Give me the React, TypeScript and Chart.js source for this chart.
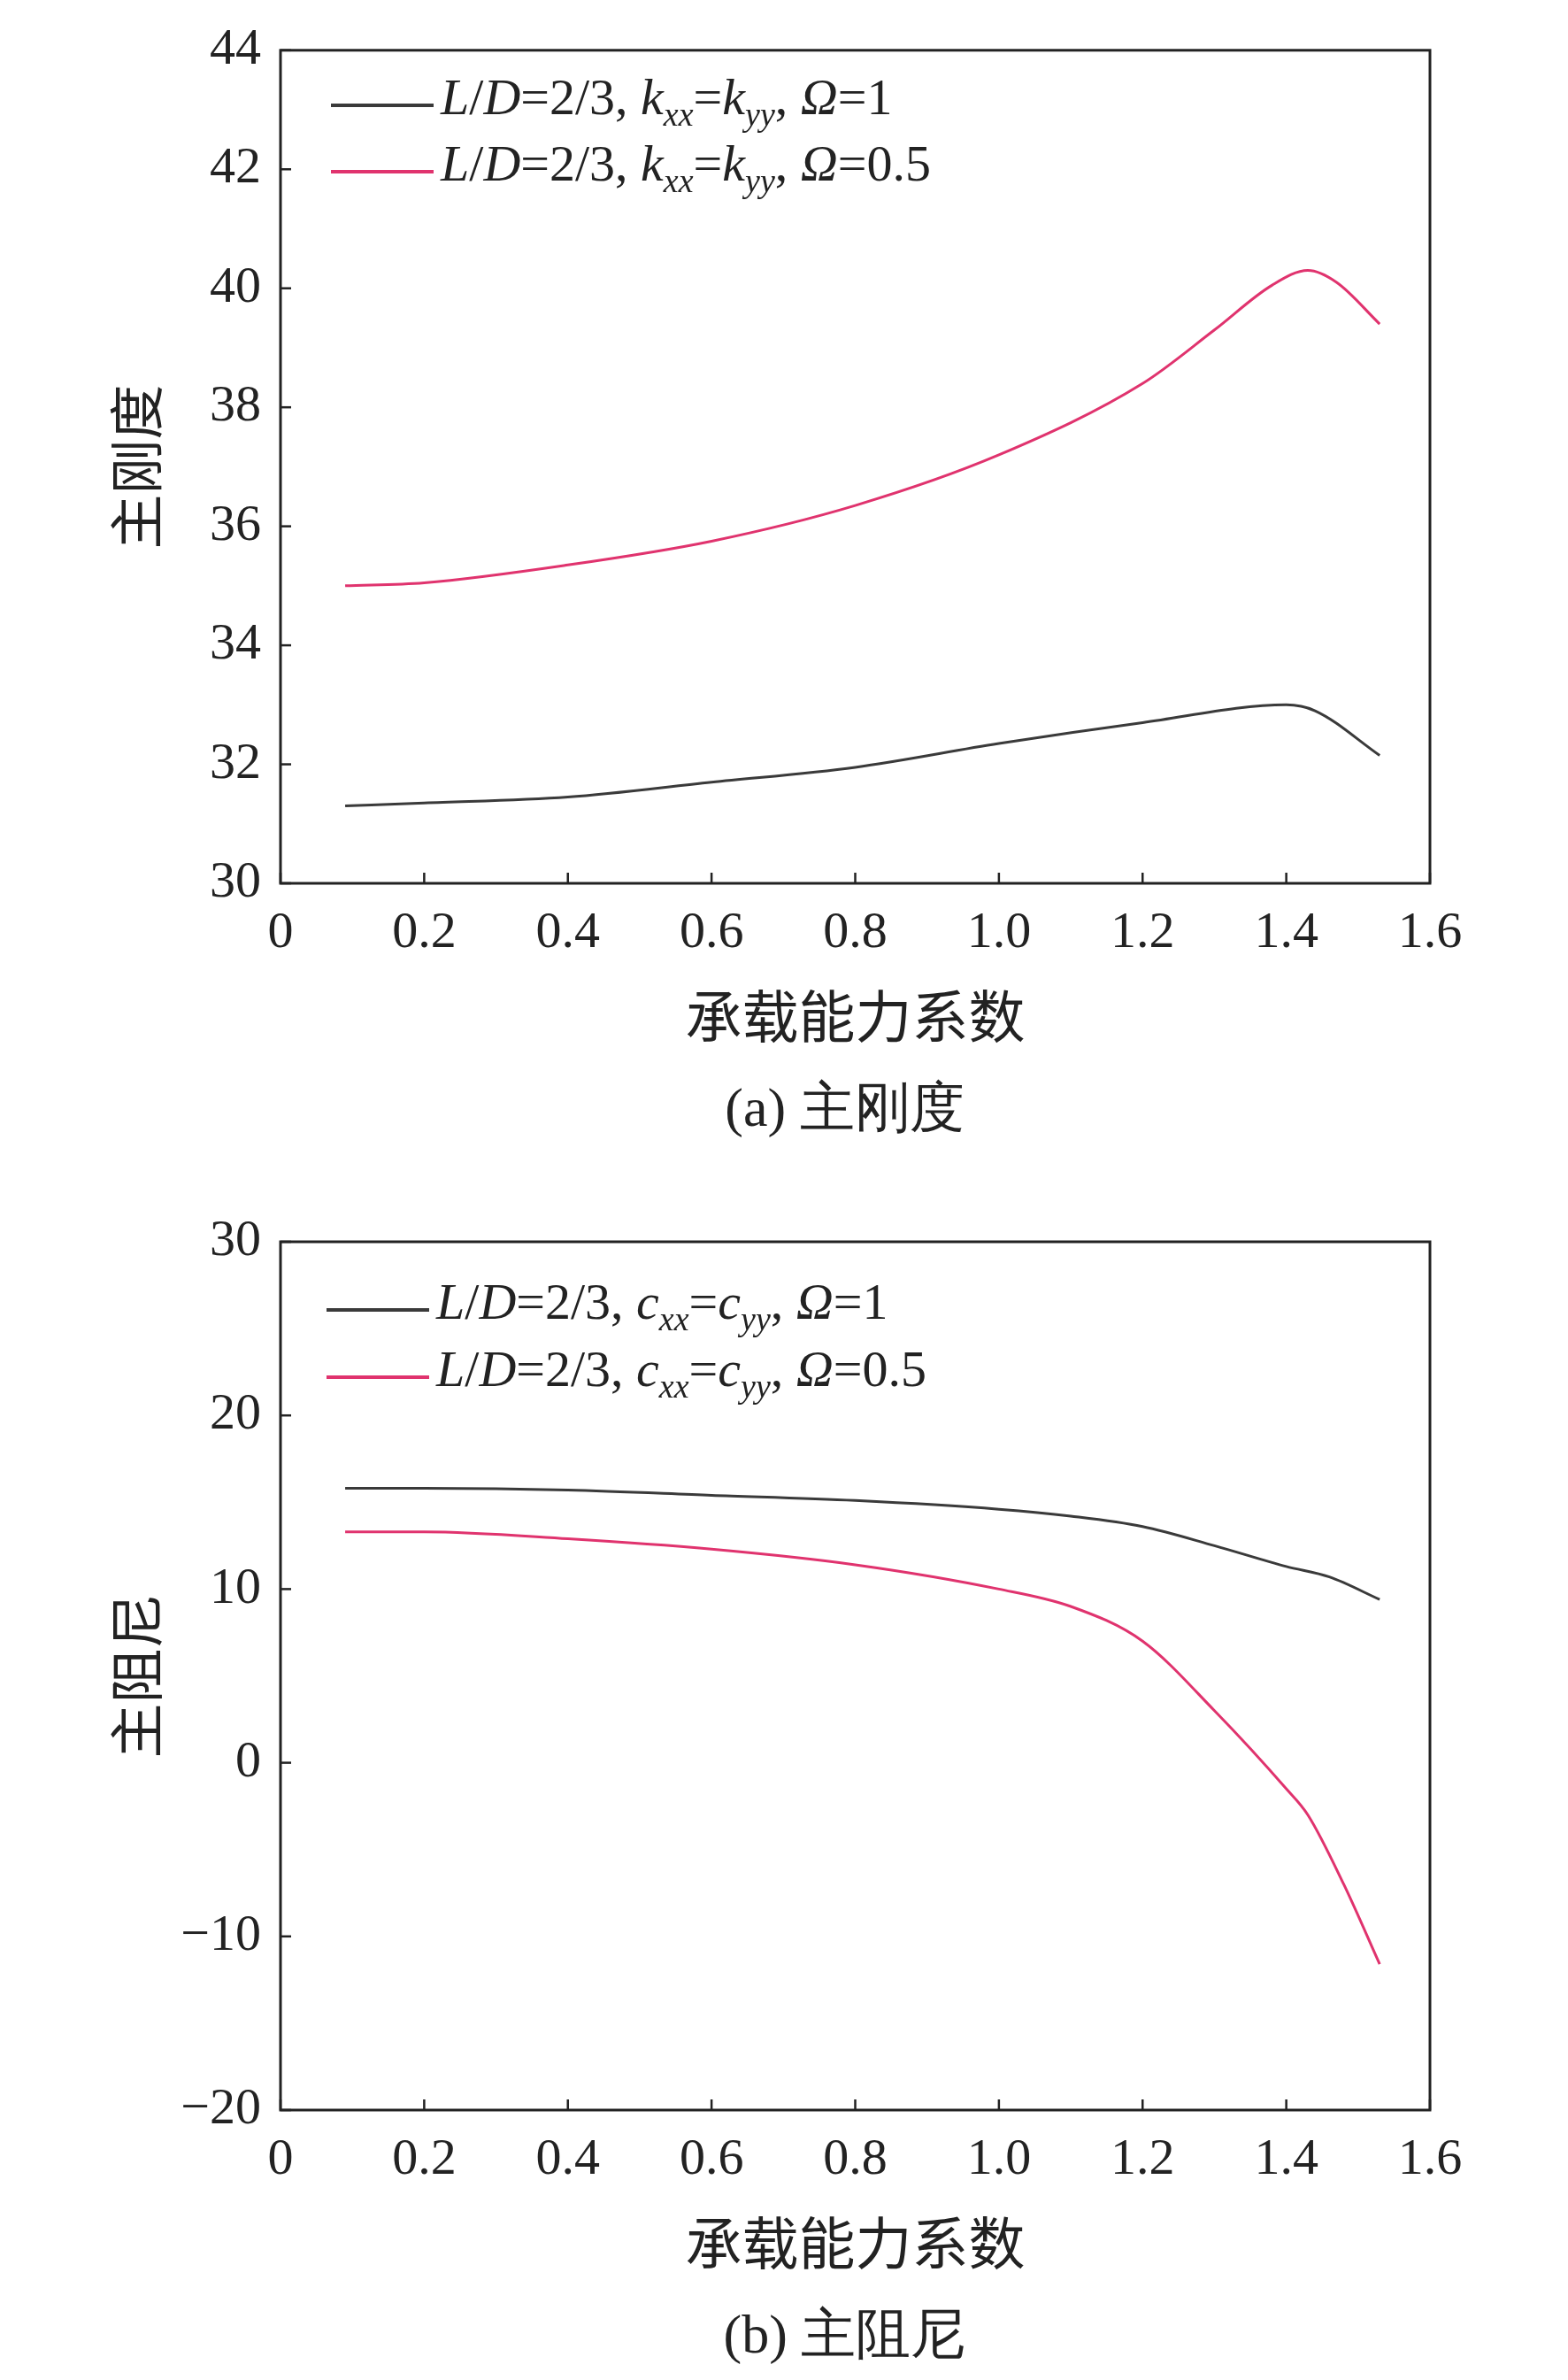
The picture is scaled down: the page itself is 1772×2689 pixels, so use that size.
import React, { useEffect, useRef } from "react";
import { Chart, registerables } from "chart.js";
Chart.register(...registerables);

const xA1 = [0.09, 0.2, 0.4, 0.6, 0.8, 1.0, 1.2, 1.4, 1.44, 1.53];
const yA1 = [31.3, 31.35, 31.45, 31.7, 31.95, 32.35, 32.7, 33.0, 32.9, 32.15];
const xA2 = [0.09, 0.2, 0.4, 0.6, 0.8, 1.0, 1.2, 1.3, 1.38, 1.43, 1.47, 1.53];
const yA2 = [35.0, 35.05, 35.35, 35.75, 36.35, 37.2, 38.4, 39.3, 40.05, 40.3, 40.1, 39.4];
const xB1 = [0.09, 0.2, 0.4, 0.6, 0.8, 1.0, 1.1, 1.2, 1.3, 1.4, 1.46, 1.53];
const yB1 = [15.8, 15.8, 15.7, 15.4, 15.1, 14.6, 14.2, 13.6, 12.5, 11.3, 10.7, 9.4];
const xB2 = [0.09, 0.2, 0.4, 0.6, 0.8, 1.0, 1.1, 1.2, 1.3, 1.4, 1.43, 1.48, 1.53];
const yB2 = [13.3, 13.3, 12.9, 12.3, 11.4, 10.0, 9.0, 7.0, 3.0, -1.5, -3.0, -7.0, -11.6];

const BLACK = "#3a3a3a";
const PINK = "#e0336e";
const SERIF = "'Liberation Serif', 'DejaVu Serif', serif";
const CJK = "'Noto Sans CJK SC', sans-serif";

const pts = (xs: number[], ys: number[]) => xs.map((x, i) => ({ x, y: ys[i] }));

type Cfg = {
  h: number; top: number; bottom: number; ymin: number; ymax: number; ystep: number;
  ylabel: string; caption: string; s1: any[]; s2: any[];
};

function Panel({ cfg, legend }: { cfg: Cfg; legend: React.ReactNode[] }) {
  const ref = useRef<HTMLCanvasElement>(null);
  useEffect(() => {
    const plugin = {
      id: "deco",
      afterDraw(c: any) {
        const ctx = c.ctx;
        const a = c.chartArea;
        const xs = c.scales.x, ys = c.scales.y;
        ctx.save();
        ctx.strokeStyle = "#222";
        ctx.lineWidth = 3;
        ctx.strokeRect(a.left, a.top, a.right - a.left, a.bottom - a.top);
        ctx.lineWidth = 2.5;
        xs.ticks.forEach((t: any) => {
          const p = xs.getPixelForValue(t.value);
          ctx.beginPath(); ctx.moveTo(p, a.bottom); ctx.lineTo(p, a.bottom - 12); ctx.stroke();
        });
        ys.ticks.forEach((t: any) => {
          const p = ys.getPixelForValue(t.value);
          ctx.beginPath(); ctx.moveTo(a.left, p); ctx.lineTo(a.left + 12, p); ctx.stroke();
        });
        ctx.fillStyle = "#222";
        ctx.textAlign = "center";
        ctx.textBaseline = "middle";
        ctx.font = `64px ${CJK}`;
        ctx.fillText("承载能力系数", (a.left + a.right) / 2, a.bottom + 150);
        ctx.font = `62px ${SERIF}`;
        const cap = cfg.caption;
        const capW = ctx.measureText(cap).width;
        ctx.fillText(cap, (a.left + a.right) / 2 - 12, a.bottom + 258);
        ctx.translate(146, (a.top + a.bottom) / 2);
        ctx.rotate(-Math.PI / 2);
        ctx.font = `62px ${CJK}`;
        ctx.fillText(cfg.ylabel, 0, 0);
        ctx.restore();
        void capW;
      },
    };
    const ds = (d: any[], col: string) => ({
      data: d, borderColor: col, borderWidth: 3, pointRadius: 0,
      cubicInterpolationMode: "monotone" as const, fill: false,
    });
    const chart = new Chart(ref.current!, {
      type: "line",
      data: { datasets: [ds(cfg.s1, BLACK), ds(cfg.s2, PINK)] },
      options: {
        animation: false, responsive: false,
        layout: { padding: { top: cfg.top, right: 156, left: 0, bottom: 0 } },
        plugins: { legend: { display: false }, tooltip: { enabled: false } },
        scales: {
          x: {
            type: "linear", min: 0, max: 1.6,
            grid: { display: false }, border: { display: false },
            afterFit: (s: any) => { s.height = cfg.h - cfg.bottom; },
            ticks: {
              stepSize: 0.2, color: "#222", padding: 14, maxRotation: 0,
              font: { family: SERIF, size: 58 },
              callback: (v: any) => (Math.abs(v) < 1e-9 ? "0" : Number(v).toFixed(1)),
            },
          },
          y: {
            min: cfg.ymin, max: cfg.ymax,
            grid: { display: false }, border: { display: false },
            afterFit: (s: any) => { s.width = 309; },
            ticks: {
              stepSize: cfg.ystep, color: "#222", padding: 14,
              font: { family: SERIF, size: 58 },
              callback: (v: any) => (v < 0 ? "\u2212" + Math.abs(v) : String(v)),
            },
          },
        },
      },
      plugins: [plugin],
    });
    return () => chart.destroy();
  }, []);
  return (
    <div style={{ position: "relative", width: 1764, height: cfg.h }}>
      <canvas ref={ref} width={1764} height={cfg.h} style={{ display: "block" }} />
      {legend}
    </div>
  );
}

const legRow = (top: number, left: number, col: string, body: React.ReactNode) => (
  <div key={top} style={{ position: "absolute", top, left, display: "flex", alignItems: "center",
    fontFamily: SERIF, fontSize: 58, color: "#222", lineHeight: "64px", whiteSpace: "nowrap" }}>
    <span style={{ display: "inline-block", width: 116, height: 4, background: col, marginRight: 8 }} />
    <span>{body}</span>
  </div>
);

const lbl = (c: string, om: string) => (
  <>
    <i>L</i>/<i>D</i>=2/3, <i>{c}</i><sub style={{ fontSize: 38 }}><i>xx</i></sub>=<i>{c}</i>
    <sub style={{ fontSize: 38 }}><i>yy</i></sub>, <i>Ω</i>={om}
  </>
);

export default function App() {
  const cfgA: Cfg = { h: 1300, top: 26, bottom: 990, ymin: 30, ymax: 44, ystep: 2,
    ylabel: "主刚度", caption: "(a) 主刚度", s1: pts(xA1, yA1), s2: pts(xA2, yA2) };
  const cfgB: Cfg = { h: 1381, top: 95, bottom: 1076, ymin: -20, ymax: 30, ystep: 10,
    ylabel: "主阻尼", caption: "(b) 主阻尼", s1: pts(xB1, yB1), s2: pts(xB2, yB2) };
  return (
    <div style={{ background: "#fff" }}>
      <Panel cfg={cfgA} legend={[
        legRow(70, 366, BLACK, lbl("k", "1")),
        legRow(145, 366, PINK, lbl("k", "0.5")),
      ]} />
      <Panel cfg={cfgB} legend={[
        legRow(131, 361, BLACK, lbl("c", "1")),
        legRow(207, 361, PINK, lbl("c", "0.5")),
      ]} />
    </div>
  );
}
